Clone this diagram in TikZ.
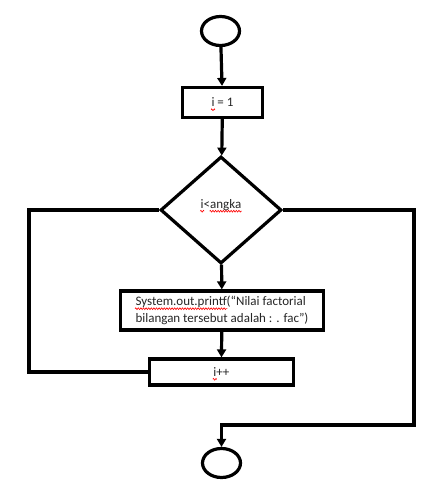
\documentclass[tikz,border=0pt]{standalone}
\usepackage{fontspec}
\setmainfont{Carlito}
\usetikzlibrary{shapes.geometric,arrows.meta,decorations.pathmorphing}
\newsavebox\wavebox
\newcommand\redwave[1]{\sbox\wavebox{#1}\rlap{\tikz[overlay,baseline=0pt]\draw[red, line width=0.6pt, decorate, decoration={zigzag, amplitude=0.9pt, segment length=2.6pt}] (-0.5pt,-2.8pt) -- (\the\wd\wavebox+0.5pt,-2.8pt);}\usebox\wavebox}
\begin{document}
\begin{tikzpicture}[x=1pt,y=1pt,
  every node/.style={font=\fontsize{13}{16.5}\selectfont, text=black!85, line width=3.2pt, inner sep=0pt},
  term/.style={draw, ellipse, minimum width=38pt, minimum height=29pt},
  procbox/.style={draw, rectangle},
  decide/.style={draw, diamond},
  link/.style={line width=3.2pt},
  flow/.style={link, -{Triangle[length=8pt,width=9pt]}}
]
\useasboundingbox (0,0) rectangle (446,-490);
\node[term] (start) at (220.5,-31) {};
\node[procbox, minimum width=80pt, minimum height=30pt] (init) at (222.5,-102.5) {\redwave{i} = 1};
\node[decide, minimum width=121pt, minimum height=107pt] (cond) at (221,-210) {};
\node at (221,-205) (condtext) {\redwave{i}<\redwave{angka}};
\node[procbox, minimum width=203pt, minimum height=39pt, align=left] (print) at (222,-310.5)
  {\redwave{System.out.printf}(“Nilai factorial\\bilangan tersebut adalah : . fac”)};
\node[procbox, minimum width=144pt, minimum height=26pt] (inc) at (221.3,-372) {\redwave{i}++};
\node[term] (stop) at (221.5,-463) {};
\coordinate (lp) at (29,-372);
\coordinate (rp) at (414,-425);
\draw[flow] (start) -- (init);
\draw[flow] (init) -- (cond);
\draw[flow] (cond) -- (print);
\draw[flow] (print) -- (inc);
\draw[link] (inc.west) -- (lp) |- (cond.west);
\draw[flow] (cond.east) -| (rp) -| (stop.north);
\end{tikzpicture}
\end{document}
